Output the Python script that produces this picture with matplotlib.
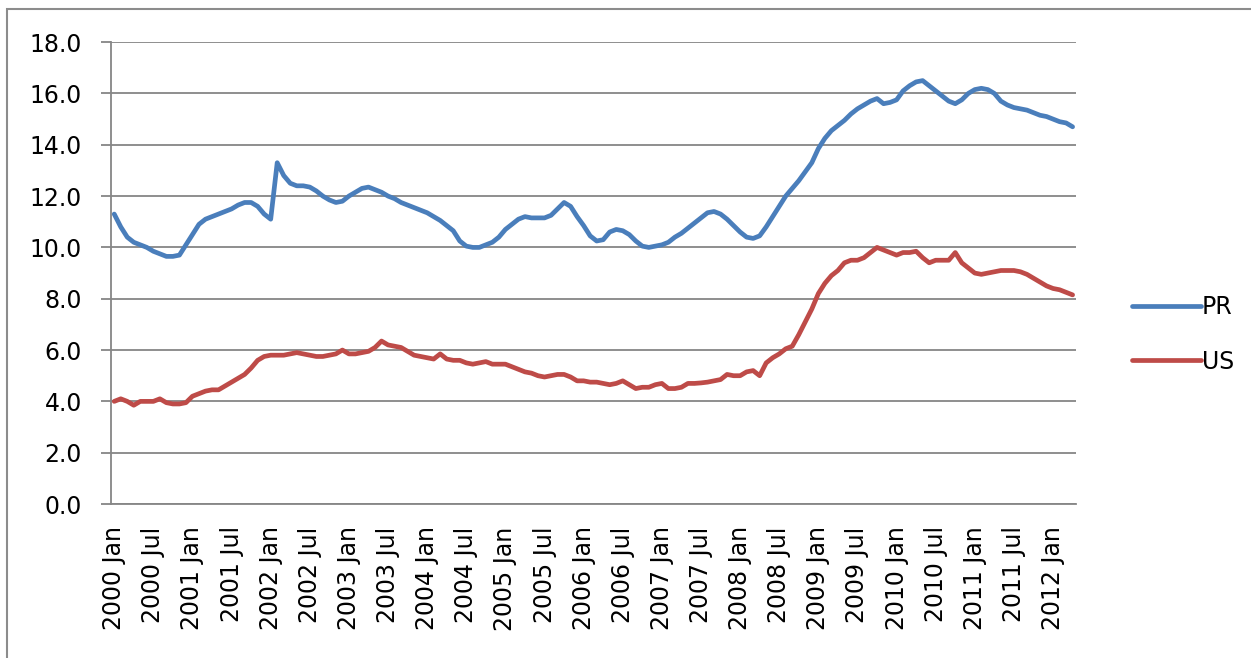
import matplotlib
matplotlib.use("Agg")
import matplotlib.pyplot as plt
from matplotlib.patches import Rectangle

# Data: monthly rates, 2000 Jan .. 2012 Apr
years = list(range(2000, 2013))
tick_labels = []
for y in years:
    tick_labels.append(f"{y} Jan")
    if y < 2012:
        tick_labels.append(f"{y} Jul")

pr = [11.3, 10.8, 10.4, 10.2, 10.1, 10.0, 9.85, 9.75, 9.65, 9.65, 9.7, 10.1,
      10.5, 10.9, 11.1, 11.2, 11.3, 11.4, 11.5, 11.65, 11.75, 11.75, 11.6, 11.3,
      11.1, 13.3, 12.8, 12.5, 12.4, 12.4, 12.35, 12.2, 12.0, 11.85, 11.75, 11.8,
      12.0, 12.15, 12.3, 12.35, 12.25, 12.15, 12.0, 11.9, 11.75, 11.65, 11.55, 11.45,
      11.35, 11.2, 11.05, 10.85, 10.65, 10.25, 10.05, 10.0, 10.0, 10.1, 10.2, 10.4,
      10.7, 10.9, 11.1, 11.2, 11.15, 11.15, 11.15, 11.25, 11.5, 11.75, 11.6, 11.2,
      10.85, 10.45, 10.25, 10.3, 10.6, 10.7, 10.65, 10.5, 10.25, 10.05, 10.0, 10.05,
      10.1, 10.2, 10.4, 10.55, 10.75, 10.95, 11.15, 11.35, 11.4, 11.3, 11.1, 10.85,
      10.6, 10.4, 10.35, 10.45, 10.8, 11.2, 11.6, 12.0, 12.3, 12.6, 12.95, 13.3,
      13.85, 14.25, 14.55, 14.75, 14.95, 15.2, 15.4, 15.55, 15.7, 15.8, 15.6, 15.65,
      15.75, 16.1, 16.3, 16.45, 16.5, 16.3, 16.1, 15.9, 15.7, 15.6, 15.75, 16.0,
      16.15, 16.2, 16.15, 16.0, 15.7, 15.55, 15.45, 15.4, 15.35, 15.25, 15.15, 15.1,
      15.0, 14.9, 14.85, 14.7]

us = [4.0, 4.1, 4.0, 3.85, 4.0, 4.0, 4.0, 4.1, 3.95, 3.9, 3.9, 3.95,
      4.2, 4.3, 4.4, 4.45, 4.45, 4.6, 4.75, 4.9, 5.05, 5.3, 5.6, 5.75,
      5.8, 5.8, 5.8, 5.85, 5.9, 5.85, 5.8, 5.75, 5.75, 5.8, 5.85, 6.0,
      5.85, 5.85, 5.9, 5.95, 6.1, 6.35, 6.2, 6.15, 6.1, 5.95, 5.8, 5.75,
      5.7, 5.65, 5.85, 5.65, 5.6, 5.6, 5.5, 5.45, 5.5, 5.55, 5.45, 5.45,
      5.45, 5.35, 5.25, 5.15, 5.1, 5.0, 4.95, 5.0, 5.05, 5.05, 4.95, 4.8,
      4.8, 4.75, 4.75, 4.7, 4.65, 4.7, 4.8, 4.65, 4.5, 4.55, 4.55, 4.65,
      4.7, 4.5, 4.5, 4.55, 4.7, 4.7, 4.72, 4.75, 4.8, 4.85, 5.05, 5.0,
      5.0, 5.15, 5.2, 5.0, 5.5, 5.7, 5.85, 6.05, 6.15, 6.6, 7.1, 7.6,
      8.2, 8.6, 8.9, 9.1, 9.4, 9.5, 9.5, 9.6, 9.8, 10.0, 9.9, 9.8,
      9.7, 9.8, 9.8, 9.85, 9.6, 9.4, 9.5, 9.5, 9.5, 9.8, 9.4, 9.2,
      9.0, 8.95, 9.0, 9.05, 9.1, 9.1, 9.1, 9.05, 8.95, 8.8, 8.65, 8.5,
      8.4, 8.35, 8.25, 8.15]

months = list(range(len(pr)))
grid_color = '#868686'

fig = plt.figure(figsize=(12.51, 6.58), dpi=100)
ax = fig.add_axes([0.0887, 0.234, 0.7713, 0.702])

ax.plot(months, pr, color='#4A7EBB', linewidth=3.4, label='PR', solid_capstyle='round')
ax.plot(months, us, color='#BE4B48', linewidth=3.4, label='US', solid_capstyle='round')

ax.set_xlim(-0.5, len(pr) - 0.5)
ax.set_ylim(0, 18)
ax.set_yticks(range(0, 19, 2))
ax.set_yticklabels([f"{v:.1f}" for v in range(0, 19, 2)])
ax.set_xticks(range(0, len(tick_labels) * 6, 6))
ax.set_xticklabels(tick_labels, rotation=90)

ax.yaxis.grid(True, color=grid_color, linewidth=1.3)
ax.set_axisbelow(True)
for side in ['top', 'right']:
    ax.spines[side].set_visible(False)
for side in ['left', 'bottom']:
    ax.spines[side].set_color(grid_color)
    ax.spines[side].set_linewidth(1.3)

ax.tick_params(axis='y', length=7, width=1.3, color=grid_color, pad=14, labelsize=17)
ax.tick_params(axis='x', length=0, pad=16, labelsize=17)

fig.legend(loc='center left', bbox_to_anchor=(0.888, 0.492), frameon=False,
           fontsize=17, handlelength=2.9, handletextpad=0.05, labelspacing=1.3)

# outer chart frame
fig.patches.append(Rectangle((7 / 1251, -0.02), 1.05, 1 - 9 / 658 + 0.02,
                             transform=fig.transFigure, fill=False,
                             edgecolor='#8c8c8c', linewidth=1.5))

fig.savefig('out.png', dpi=100)
